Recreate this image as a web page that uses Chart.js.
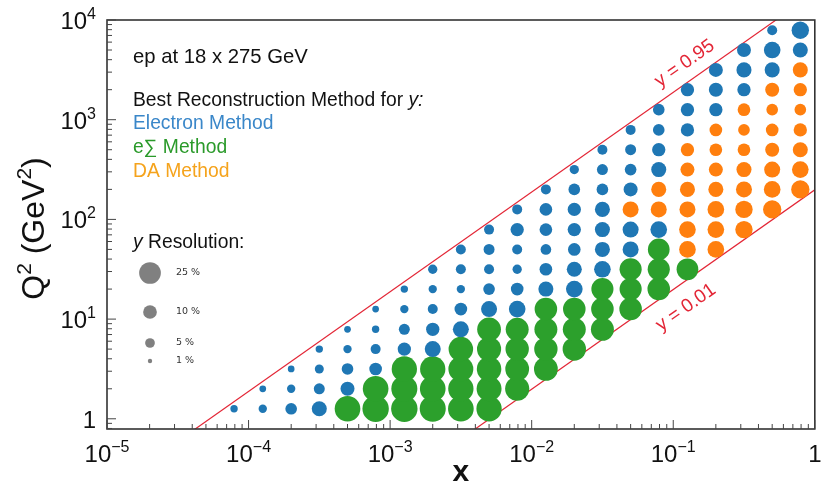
<!DOCTYPE html>
<html><head><meta charset="utf-8">
<script src="https://cdn.jsdelivr.net/npm/chart.js@4.4.1/dist/chart.umd.min.js"></script>
<style>html,body{margin:0;padding:0;background:#fff;}canvas{display:block;}</style>
</head><body>
<canvas id="c" width="828" height="485"></canvas>
<script>
// ---- data ----
// bin centres in x (columns) and Q^2 (rows)
const xBins = [7.9e-5, 1.26e-4, 2.0e-4, 3.16e-4, 5.0e-4, 7.9e-4, 1.26e-3, 2.0e-3, 3.16e-3, 5.0e-3,
               7.9e-3, 1.26e-2, 2.0e-2, 3.16e-2, 5.0e-2, 7.9e-2, 0.126, 0.2, 0.316, 0.5, 0.79];
const q2Bins = [1.26, 2.0, 3.16, 5.0, 7.9, 12.6, 20, 31.6, 50, 79,
                126, 200, 316, 500, 790, 1260, 2000, 3160, 5000, 7900];
// lowest Q^2 row filled in each x column
const firstRow = [0,0,0,0,0,0,0,0,0,0,1,2,3,4,5,6,7,8,9,10,11];
// best method per cell, bottom to top (E = electron, S = e-Sigma, D = double angle)
const methodCodes = [
  "E", "EE", "EEE", "EEEE", "SEEEE", "SSEEEE", "SSSEEEE", "SSSEEEEE", "SSSSEEEEE", "SSSSSEEEEE",
  "SSSSEEEEEE", "SSSSEEEEEE", "SSSEEEEEEE", "SSSEEEEEEE", "SSSEEDEEEE", "SSSEDDEEEE",
  "SDDDDDDEEE", "DDDDDDDEEE", "DDDDDDDEEE", "DDDDDDDEEE", "DDDDDDDEE"
];
// y resolution in % per cell, bottom to top
const resolutions = [
  [2.9],
  [3.7, 2.4],
  [7.2, 3.7, 2.4],
  [12, 6.4, 4.3, 2.9],
  [35, 10.4, 7.2, 3.7, 2.4],
  [37, 35, 8.5, 5.3, 2.9, 2.4],
  [37, 36, 34, 9.4, 6.4, 3.7, 2.9],
  [36, 35, 34, 13.6, 9.4, 5.3, 3.7, 4.6],
  [35, 34, 33, 32, 13.6, 8.5, 3.7, 5.3, 5.3],
  [34, 33, 32, 31, 30, 13.6, 7.2, 5.3, 6.4, 5.3],
  [31, 30, 29, 28, 14.7, 8.5, 4.6, 5.3, 9.4, 5.3],
  [30, 29, 28, 27, 12, 8.5, 6.0, 8.5, 8.5, 5.3],
  [29, 28, 27, 14.7, 12, 8.5, 9.4, 9.4, 7.2, 4.6],
  [28, 27, 26, 14.7, 12, 12, 12, 7.2, 6.4, 5.3],
  [27, 26, 26, 13.6, 13.6, 13.6, 10.4, 7.2, 6.4, 5.3],
  [27, 26, 25, 14.7, 13.6, 12, 12, 9.4, 7.2, 7.2],
  [25, 14.7, 14.7, 13.6, 12, 10.4, 9.4, 9.4, 9.4, 9.4],
  [14.7, 14.7, 14.7, 12, 10.4, 8.5, 8.5, 9.4, 10.4, 10.4],
  [16, 16, 13.6, 12, 8.5, 7.2, 8.5, 9.4, 12, 10.4],
  [17.8, 14.7, 13.6, 10.4, 8.5, 7.2, 10.4, 12, 14.7, 5.3],
  [17.8, 14.7, 12, 9.4, 7.2, 9.4, 12, 12, 16]
];
const methodKeys = ["E", "S", "D"];
const methodLabels = ["Electron Method", "e\u2211 Method", "DA Method"];
const legendRes = [25, 10, 5, 1];
const legendLabels = ["25 %", "10 %", "5 %", "1 %"];
const yLines = [0.95, 0.01];
const yLineLabels = ["y = 0.95", "y = 0.01"];
const beamEnergies = [18, 275];
const xTickExps = [-5, -4, -3, -2, -1, 0];
const yTickExps = [0, 1, 2, 3, 4];

// ---- styles ----
const dotColors = { E: "#1f77b4", S: "#2ca02c", D: "#ff7f0e" };
const textColors = { E: "#3a87c9", S: "#2a9a2a", D: "#f5a31c" };
const lineColor = "#e32636";
const FONT = '"Liberation Sans", Arial, Helvetica, sans-serif';
function radiusFor(res) { return 2.17 * Math.sqrt(res); }

const s = 4 * beamEnergies[0] * beamEnergies[1];
const pts = { E: [], S: [], D: [] };
xBins.forEach((x, i) => {
  const codes = methodCodes[i];
  for (let k = 0; k < codes.length; k++) {
    pts[codes[k]].push({ x: x, y: q2Bins[firstRow[i] + k], r: radiusFor(resolutions[i][k]) });
  }
});

const datasets = methodKeys.map((k, idx) => ({
  type: "bubble", label: methodLabels[idx], data: pts[k],
  backgroundColor: dotColors[k], borderWidth: 0, hoverBorderWidth: 0
}));
yLines.forEach((yv, idx) => {
  datasets.push({
    type: "line", label: yLineLabels[idx],
    data: [{ x: 1e-5, y: s * 1e-5 * yv }, { x: 1, y: s * 1 * yv }],
    borderColor: lineColor, borderWidth: 1.2, pointRadius: 0, fill: false, tension: 0
  });
});

function drawRich(ctx, parts, x, y, align) {
  let w = 0;
  parts.forEach(p => { ctx.font = p.font; w += ctx.measureText(p.t).width; });
  let cx = align === "center" ? x - w / 2 : (align === "right" ? x - w : x);
  ctx.textAlign = "left";
  parts.forEach(p => {
    ctx.font = p.font; ctx.fillStyle = p.color || "#111";
    ctx.fillText(p.t, cx, y + (p.dy || 0));
    cx += ctx.measureText(p.t).width;
  });
}
function powLabel(e, base, sup) {
  if (e === 0) return [{ t: "1", font: base }];
  const es = e < 0 ? "\u2212" + (-e) : String(e);
  return [{ t: "10", font: base }, { t: es, font: sup, dy: -10 }];
}

const decor = {
  id: "decor",
  afterDraw(chart) {
    const { ctx, chartArea: a } = chart;
    const xs = chart.scales.x, ys = chart.scales.y;
    ctx.save();
    // frame
    ctx.strokeStyle = "#333"; ctx.lineWidth = 1.6;
    ctx.strokeRect(a.left, a.top, a.right - a.left, a.bottom - a.top);
    // ticks
    ctx.lineWidth = 1; ctx.strokeStyle = "#444";
    ctx.beginPath();
    xTickExps.forEach(e => {
      const p = xs.getPixelForValue(Math.pow(10, e));
      ctx.moveTo(p, a.bottom); ctx.lineTo(p, a.bottom - 9);
      if (e < 0) for (let m = 2; m <= 9; m++) {
        const q = xs.getPixelForValue(m * Math.pow(10, e));
        ctx.moveTo(q, a.bottom); ctx.lineTo(q, a.bottom - 5);
      }
    });
    for (let e = -1; e <= 4; e++) {
      const v0 = Math.pow(10, e);
      if (v0 >= ys.min && v0 <= ys.max) {
        const p = ys.getPixelForValue(v0);
        ctx.moveTo(a.left, p); ctx.lineTo(a.left + 9, p);
      }
      for (let m = 2; m <= 9; m++) {
        const v = m * v0;
        if (v > ys.min && v < ys.max) {
          const q = ys.getPixelForValue(v);
          ctx.moveTo(a.left, q); ctx.lineTo(a.left + 5, q);
        }
      }
    }
    ctx.stroke();
    // tick labels
    const baseF = "24px " + FONT, supF = "16px " + FONT;
    ctx.textBaseline = "alphabetic";
    xTickExps.forEach(e => {
      drawRich(ctx, powLabel(e, baseF, supF), xs.getPixelForValue(Math.pow(10, e)), a.bottom + 33, "center");
    });
    yTickExps.forEach(e => {
      drawRich(ctx, powLabel(e, baseF, supF), a.left - 11, ys.getPixelForValue(Math.pow(10, e)) + 9, "right");
    });
    // axis titles
    drawRich(ctx, [{ t: "x", font: "bold 30px " + FONT }], (a.left + a.right) / 2, a.bottom + 52, "center");
    ctx.save();
    ctx.translate(44, (a.top + a.bottom) / 2 + 4);
    ctx.rotate(-Math.PI / 2);
    const tf = "32px " + FONT, tsf = "21px " + FONT;
    drawRich(ctx, [{ t: "Q", font: tf }, { t: "2", font: tsf, dy: -13 }, { t: " (GeV", font: tf },
      { t: "2", font: tsf, dy: -13 }, { t: ")", font: tf }], 0, 0, "center");
    ctx.restore();
    // annotation texts
    const tx = a.left + 26;
    const f16 = "19.3px " + FONT, f16i = "italic 19.3px " + FONT;
    drawRich(ctx, [{ t: "ep at 18 x 275 GeV", font: "20.3px " + FONT }], tx, 63, "left");
    drawRich(ctx, [{ t: "Best Reconstruction Method for ", font: f16 }, { t: "y:", font: f16i }], tx, 106, "left");
    methodKeys.forEach((k, idx) => {
      drawRich(ctx, [{ t: methodLabels[idx], font: f16, color: textColors[k] }], tx, 129 + idx * 24, "left");
    });
    drawRich(ctx, [{ t: "y", font: f16i }, { t: " Resolution:", font: f16 }], tx, 248, "left");
    // resolution size legend
    const legY = [273, 312, 343, 361];
    legendRes.forEach((r, idx) => {
      ctx.beginPath(); ctx.fillStyle = "#808080";
      ctx.arc(a.left + 43, legY[idx], radiusFor(r), 0, Math.PI * 2); ctx.fill();
      ctx.fillStyle = "#333"; ctx.font = '9.5px "DejaVu Sans", sans-serif';
      ctx.textBaseline = "middle"; ctx.textAlign = "left";
      ctx.fillText(legendLabels[idx], a.left + 69, legY[idx]);
    });
    ctx.textBaseline = "middle";
    // labels along y lines
    const ang = Math.atan2(ys.getPixelForValue(1) - ys.getPixelForValue(10), xs.getPixelForValue(10) - xs.getPixelForValue(1));
    const anchors = [[Math.pow(10, -0.85), -17], [Math.pow(10, -1.0), 22]];
    yLines.forEach((yv, idx) => {
      const xv = anchors[idx][0], d = anchors[idx][1];
      const px = xs.getPixelForValue(xv), py = ys.getPixelForValue(s * xv * yv);
      const cx = px + d * Math.sin(ang), cy = py + d * Math.cos(ang);
      ctx.save(); ctx.translate(cx, cy); ctx.rotate(-ang);
      ctx.fillStyle = lineColor; ctx.font = "19px " + FONT; ctx.textAlign = "center";
      ctx.fillText(yLineLabels[idx], 0, 0);
      ctx.restore();
    });
    ctx.restore();
  }
};

new Chart(document.getElementById("c"), {
  type: "bubble",
  data: { datasets: datasets },
  options: {
    responsive: false, animation: false, events: [],
    layout: { padding: { left: 107, top: 20, right: 5, bottom: 56 } },
    scales: {
      x: { type: "logarithmic", min: 1e-5, max: 1, bounds: "data", display: false },
      y: { type: "logarithmic", min: 0.79, max: 1e4, bounds: "data", display: false }
    },
    plugins: { legend: { display: false }, tooltip: { enabled: false } }
  },
  plugins: [decor]
});
</script>
</body></html>
